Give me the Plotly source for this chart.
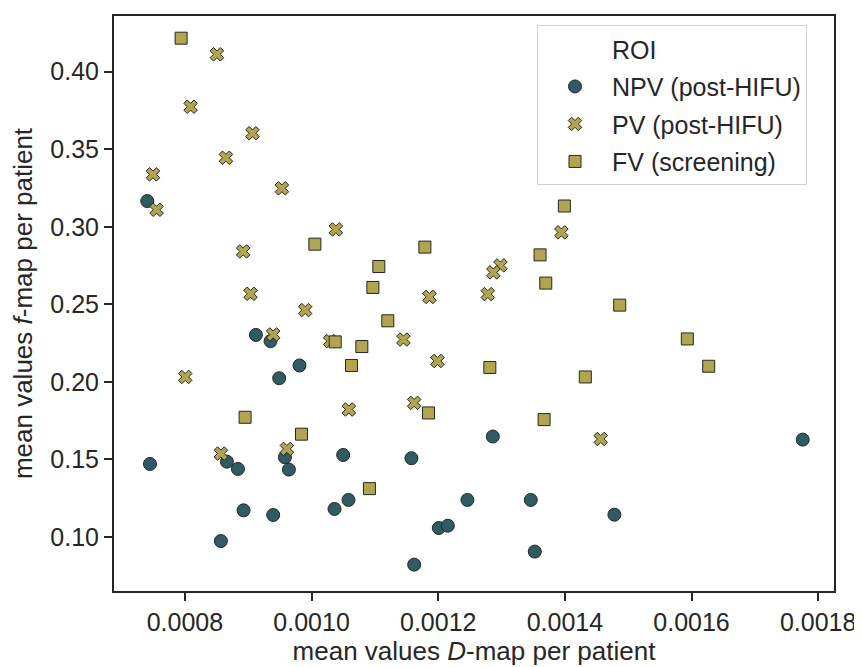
import plotly.graph_objects as go

npv_x = [0.0007405, 0.0009121, 0.0009352, 0.0009809, 0.0009489, 0.0009579, 0.0007448, 0.0008663,
         0.0008837, 0.0009642, 0.0010499, 0.0011577, 0.0008926, 0.0009394, 0.0010362, 0.0010583,
         0.0008568, 0.0012009, 0.0012152, 0.0011620, 0.0012862, 0.0017756, 0.0012461, 0.0013462,
         0.0014782, 0.0013525]
npv_y = [0.3166, 0.2303, 0.2263, 0.2106, 0.2024, 0.1514, 0.1471, 0.1486,
         0.1439, 0.1435, 0.1529, 0.1508, 0.1172, 0.1142, 0.1181, 0.1239,
         0.0974, 0.1058, 0.1073, 0.0822, 0.1648, 0.1628, 0.1239, 0.1239,
         0.1144, 0.0906]

pv_x = [0.0008505, 0.0008090, 0.0009067, 0.0008647, 0.0007495, 0.0007552, 0.0009531, 0.0010383,
        0.0008920, 0.0011862, 0.0009036, 0.0009899, 0.0009394, 0.0010294, 0.0011451, 0.0011988,
        0.0008005, 0.0010589, 0.0011620, 0.0008568, 0.0009610, 0.0013945, 0.0012982, 0.0012871,
        0.0012783, 0.0014567]
pv_y = [0.4112, 0.3774, 0.3603, 0.3445, 0.3338, 0.3110, 0.3248, 0.2983,
        0.2841, 0.2548, 0.2568, 0.2463, 0.2306, 0.2263, 0.2273, 0.2135,
        0.2032, 0.1822, 0.1865, 0.1538, 0.1568, 0.2964, 0.2751, 0.2706,
        0.2566, 0.1632]

fv_x = [0.0007940, 0.0010052, 0.0011789, 0.0011062, 0.0010968, 0.0011204, 0.0010373, 0.0010794,
        0.0010630, 0.0011846, 0.0008950, 0.0009841, 0.0010914, 0.0013992, 0.0013608, 0.0013698,
        0.0014866, 0.0015934, 0.0016271, 0.0012815, 0.0014323, 0.0013672]
fv_y = [0.4216, 0.2888, 0.2869, 0.2744, 0.2609, 0.2394, 0.2258, 0.2228,
        0.2106, 0.1800, 0.1772, 0.1663, 0.1312, 0.3134, 0.2819, 0.2637,
        0.2495, 0.2277, 0.2101, 0.2093, 0.2032, 0.1757]

x_ticks = [0.0008, 0.0010, 0.0012, 0.0014, 0.0016, 0.0018]
y_ticks = [0.10, 0.15, 0.20, 0.25, 0.30, 0.35, 0.40]

TEAL = "#2f5b63"
OLIVE = "#b1a64f"
EDGE = "#262626"
FONT = "Liberation Sans, Arial, sans-serif"

fig = go.Figure()
fig.add_trace(go.Scatter(x=[None], y=[None], mode="markers", name="ROI",
                         marker=dict(size=1, color="rgba(0,0,0,0)"),
                         legendgroup="g0", showlegend=True, hoverinfo="skip"))
fig.add_trace(go.Scatter(x=npv_x, y=npv_y, mode="markers", name="NPV (post-HIFU)",
                         legendgroup="g1",
                         marker=dict(symbol="circle", size=13, color=TEAL,
                                     line=dict(color=EDGE, width=1))))
fig.add_trace(go.Scatter(x=pv_x, y=pv_y, mode="markers", name="PV (post-HIFU)",
                         legendgroup="g2",
                         marker=dict(symbol="x", size=12, color=OLIVE,
                                     line=dict(color=EDGE, width=1))))
fig.add_trace(go.Scatter(x=fv_x, y=fv_y, mode="markers", name="FV (screening)",
                         legendgroup="g3",
                         marker=dict(symbol="square", size=12, color=OLIVE,
                                     line=dict(color=EDGE, width=1))))

axis_common = dict(showline=True, linecolor=EDGE, linewidth=2, mirror=True,
                   ticks="outside", ticklen=8, tickwidth=1.5, tickcolor=EDGE,
                   showgrid=False, zeroline=False, automargin=False,
                   tickfont=dict(family=FONT, size=25, color=EDGE))

fig.update_xaxes(range=[0.000688, 0.001825], tickvals=x_ticks,
                 ticktext=[f"{v:.4f}" for v in x_ticks],
                 title=dict(text="mean values <i>D</i>-map per patient",
                            font=dict(family=FONT, size=26, color=EDGE), standoff=6),
                 **axis_common)
fig.update_yaxes(range=[0.0652, 0.4359], tickvals=y_ticks,
                 ticktext=[f"{v:.2f}" for v in y_ticks],
                 title=dict(text="mean values <i>f</i>-map per patient",
                            font=dict(family=FONT, size=26, color=EDGE), standoff=10),
                 **axis_common)

# the page body adds an 8 px offset; size and margins compensate for it
fig.update_layout(
    width=854, height=659,
    margin=dict(l=106, r=28, t=8, b=76),
    paper_bgcolor="white", plot_bgcolor="white",
    font=dict(family=FONT, size=25, color=EDGE),
    legend=dict(x=0.5875, y=0.984, xanchor="left", yanchor="top",
                bgcolor="rgba(255,255,255,0.8)", bordercolor="#d0d0d0", borderwidth=1,
                font=dict(family=FONT, size=25, color=EDGE),
                traceorder="grouped", tracegroupgap=2, itemwidth=64),
    showlegend=True,
)

fig.write_html("out.html")
